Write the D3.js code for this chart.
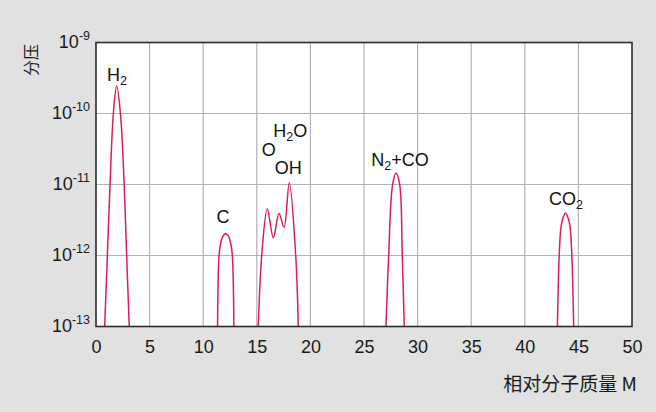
<!DOCTYPE html>
<html>
<head>
<meta charset="utf-8">
<script src="https://cdn.jsdelivr.net/npm/d3@7/dist/d3.min.js"></script>
<style>
  html, body { margin: 0; padding: 0; background: #e1e1e1; }
  svg { display: block; font-family: "Liberation Sans", Arial, sans-serif; }
</style>
</head>
<body>
<svg id="chart" width="656" height="412"></svg>
<script>
// Mass spectrum of residual gas: [relative molecular mass M, partial pressure]
const peakH2 = [[0.81, 1e-13], [1.06, 1e-12], [1.31, 1e-11], [1.62, 1e-10], [1.93, 2.45e-10],
                [2.28, 1e-10], [2.63, 1e-11], [2.86, 1e-12], [3.1, 1e-13]];
const peakC = [[11.34, 1e-13], [11.48, 1e-12], [11.63, 1.48e-12], [11.82, 1.84e-12], [12.1, 2.04e-12],
               [12.38, 1.84e-12], [12.57, 1.48e-12], [12.72, 1e-12], [12.86, 1e-13]];
const peakOxygen = [[15.14, 1e-13], [15.46, 1e-12], [15.98, 4.5e-12], [16.54, 1.78e-12],
                    [17.07, 3.9e-12], [17.54, 2.5e-12], [18.03, 1.05e-11], [18.63, 1e-12], [18.87, 1e-13]];
const peakN2CO = [[27.05, 1e-13], [27.3, 1e-12], [27.67, 1e-11], [27.99, 1.45e-11],
                  [28.33, 1e-11], [28.57, 1e-12], [28.76, 1e-13]];
const peakCO2 = [[43.04, 1e-13], [43.21, 1e-12], [43.38, 2.55e-12], [43.55, 3.34e-12], [43.8, 3.98e-12],
                 [44.05, 3.34e-12], [44.22, 2.55e-12], [44.39, 1e-12], [44.56, 1e-13]];
const peaks = [peakH2, peakC, peakOxygen, peakN2CO, peakCO2];

const xTicks = [0, 5, 10, 15, 20, 25, 30, 35, 40, 45, 50];
const yExponents = [-9, -10, -11, -12, -13];

// Peak labels: [text, subscript, trailing text, M, partial pressure at the baseline]
const peakLabels = [
  ["H", "2", "", 1.96, 2.87e-10],
  ["C", "", "", 11.85, 2.87e-12],
  ["O", "", "", 16.12, 2.52e-11],
  ["OH", "", "", 17.94, 1.41e-11],
  ["H", "2", "O", 18.13, 4.67e-11],
  ["N", "2", "+CO", 28.36, 1.82e-11],
  ["CO", "2", "", 43.85, 5.14e-12]
];

const svg = d3.select("#chart");
const plot = { left: 96, right: 632, top: 42.5, bottom: 326.5 };
const fontSize = 18;

const x = d3.scaleLinear().domain([0, 50]).range([plot.left, plot.right]);
const y = d3.scaleLog().domain([1e-13, 1e-9]).range([plot.bottom, plot.top]);

// plot background
svg.append("rect")
  .attr("x", plot.left).attr("y", plot.top)
  .attr("width", plot.right - plot.left).attr("height", plot.bottom - plot.top)
  .attr("fill", "#fff");

// grid
const grid = svg.append("g").attr("stroke", "#b2b2b2").attr("stroke-width", 1.2);
grid.selectAll("line.v").data(xTicks.slice(1, -1)).join("line")
  .attr("x1", d => x(d)).attr("x2", d => x(d))
  .attr("y1", plot.top).attr("y2", plot.bottom);
grid.selectAll("line.h").data(yExponents.slice(1, -1)).join("line")
  .attr("x1", plot.left).attr("x2", plot.right)
  .attr("y1", d => y(Math.pow(10, d))).attr("y2", d => y(Math.pow(10, d)));

// peaks
svg.append("defs").append("clipPath").attr("id", "clip")
  .append("rect").attr("x", plot.left).attr("y", plot.top)
  .attr("width", plot.right - plot.left).attr("height", plot.bottom - plot.top);

const line = d3.line()
  .x(d => x(d[0]))
  .y(d => y(d[1]))
  .curve(d3.curveCatmullRom.alpha(0.5));

svg.append("g").attr("clip-path", "url(#clip)")
  .selectAll("path").data(peaks).join("path")
  .attr("d", line)
  .attr("fill", "none")
  .attr("stroke", "#dc1f52")
  .attr("stroke-width", 1.5);

// frame
svg.append("rect")
  .attr("x", plot.left).attr("y", plot.top)
  .attr("width", plot.right - plot.left).attr("height", plot.bottom - plot.top)
  .attr("fill", "none").attr("stroke", "#2b2b2b").attr("stroke-width", 1.6);

// x axis
const xAxis = svg.append("g")
  .attr("transform", `translate(0,${plot.bottom})`)
  .call(d3.axisBottom(x).tickValues(xTicks).tickSize(0).tickPadding(14).tickFormat(d3.format("d")));
xAxis.select(".domain").remove();
xAxis.selectAll("text").attr("font-size", fontSize).attr("fill", "#1a1a1a")
  .attr("font-family", "Liberation Sans, Arial, sans-serif");

// y axis with powers of ten
const yAxis = svg.append("g");
yExponents.forEach(e => {
  const t = yAxis.append("text")
    .attr("x", 90).attr("y", y(Math.pow(10, e)) + 5)
    .attr("text-anchor", "end").attr("font-size", fontSize).attr("fill", "#1a1a1a");
  t.append("tspan").text("10");
  t.append("tspan").attr("font-size", 12.5).attr("dy", -8).text("-" + Math.abs(e));
});

// axis titles
svg.append("text")
  .attr("transform", "translate(37,60) rotate(-90)")
  .attr("text-anchor", "middle")
  .attr("font-family", "Noto Sans CJK SC, sans-serif")
  .attr("font-size", 16).attr("fill", "#1a1a1a")
  .text("分压");

svg.append("text")
  .attr("x", 637).attr("y", 391)
  .attr("text-anchor", "end")
  .attr("font-family", "Noto Sans CJK SC, sans-serif")
  .attr("font-size", 19).attr("fill", "#1a1a1a")
  .text("相对分子质量 M");

// peak labels
peakLabels.forEach(([base, sub, tail, m, p]) => {
  const t = svg.append("text")
    .attr("x", x(m)).attr("y", y(p))
    .attr("text-anchor", "middle").attr("font-size", fontSize).attr("fill", "#111");
  t.append("tspan").text(base);
  if (sub) t.append("tspan").attr("font-size", 12.5).attr("dy", 4).text(sub);
  if (tail) t.append("tspan").attr("dy", -4).text(tail);
});
</script>
</body>
</html>
